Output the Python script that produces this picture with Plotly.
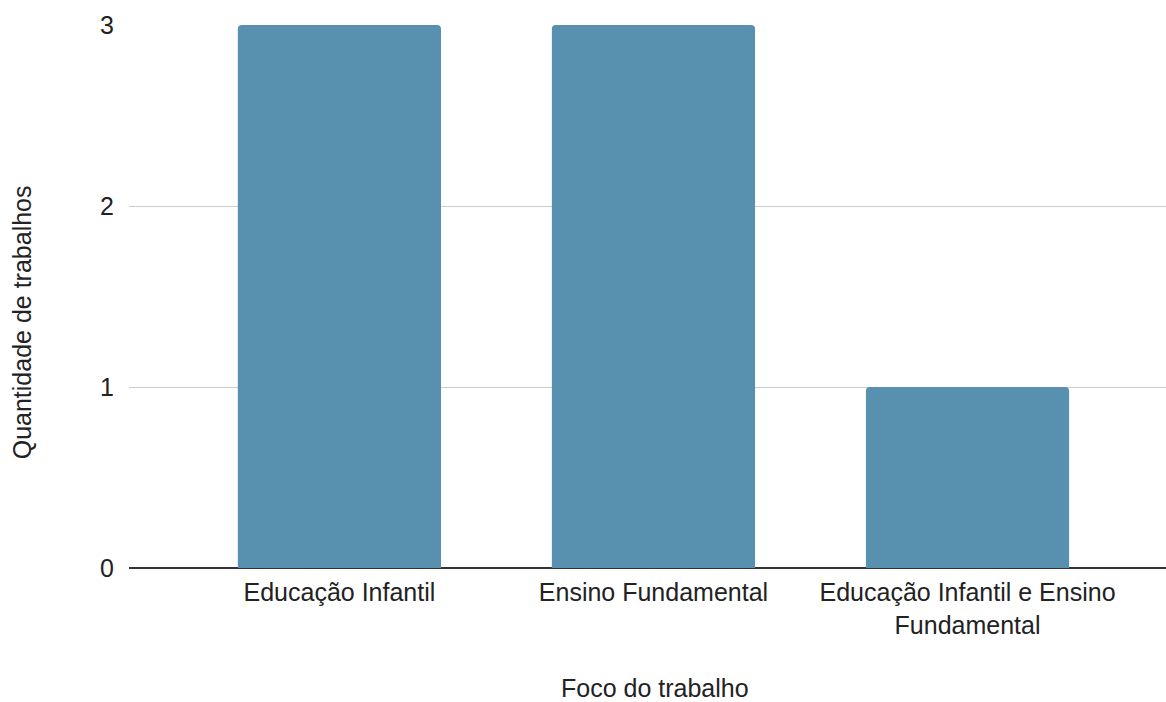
import plotly.graph_objects as go

# Número de trabalhos por foco
categorias = ["Educação Infantil", "Ensino Fundamental", "Educação Infantil e Ensino<br>Fundamental"]
quantidades = [3, 3, 1]
y_ticks = [0, 1, 2, 3]
titulo_x = "Foco do trabalho"
titulo_y = "Quantidade de trabalhos"

FONT = "Liberation Sans, Arial, sans-serif"
FS = 25

fig = go.Figure(
    go.Bar(
        x=list(range(len(categorias))),
        y=quantidades,
        marker=dict(color="#5891AF", line=dict(width=0)),
        width=0.647,
    )
)

fig.update_layout(
    width=1166,
    height=702,
    margin=dict(l=129, r=0, t=25, b=134),
    paper_bgcolor="white",
    plot_bgcolor="white",
    font=dict(family=FONT, size=FS, color="#222222"),
    barcornerradius=4,
    showlegend=False,
    annotations=[
        dict(
            text=titulo_x, xref="paper", yref="paper", x=0.5068, y=-0.2219,
            xanchor="center", yanchor="middle", showarrow=False,
            font=dict(family=FONT, size=FS, color="#222222"),
        ),
        dict(
            text=titulo_y, xref="paper", yref="paper", x=-0.1029, y=0.453,
            xanchor="center", yanchor="middle", textangle=-90, showarrow=False,
            font=dict(family=FONT, size=FS, color="#222222"),
        ),
    ],
)

fig.update_xaxes(
    tickmode="array",
    tickvals=list(range(len(categorias))),
    ticktext=categorias,
    range=[-0.67, 2.632],
    showgrid=False,
    zeroline=False,
    showline=False,
    ticks="",
    ticklabelstandoff=7,
)

fig.update_yaxes(
    range=[0, 3],
    tickvals=y_ticks,
    showgrid=True,
    gridcolor="#cccccc",
    gridwidth=1,
    zeroline=True,
    zerolinecolor="#333333",
    zerolinewidth=1.5,
    showline=False,
    ticks="",
    ticklabelstandoff=14,
)

fig.write_html("out.html")
